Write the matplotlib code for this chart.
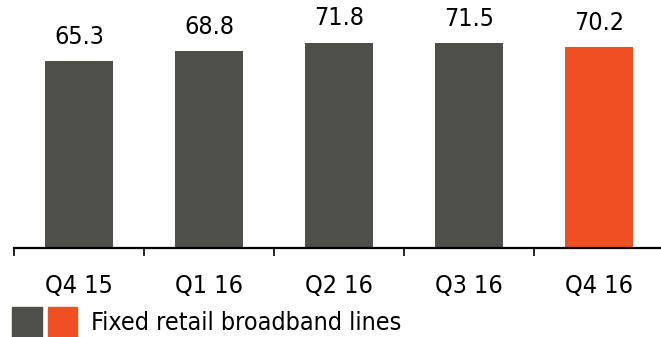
import matplotlib
matplotlib.use("Agg")
import matplotlib.pyplot as plt
from matplotlib.legend_handler import HandlerTuple
from matplotlib.patches import Patch

quarters = ["Q4 15", "Q1 16", "Q2 16", "Q3 16", "Q4 16"]
lines = [65.3, 68.8, 71.8, 71.5, 70.2]
labels = ["65.3", "68.8", "71.8", "71.5", "70.2"]

grey = "#4f4f4a"
orange = "#f04e23"
colors = [grey] * 4 + [orange]

plt.rcParams["font.family"] = "DejaVu Sans"
plt.rcParams["font.stretch"] = "condensed"
fs = 18

fig = plt.figure(figsize=(6.61, 3.37), dpi=100)
ax = fig.add_axes([14 / 661, 89 / 337, 650 / 661, 248 / 337])

x = list(range(len(quarters)))
bars = ax.bar(x, lines, width=0.52, color=colors)
ax.bar_label(bars, labels=labels, padding=9, fontsize=fs)

ax.set_xlim(-0.5, 4.5)
ax.set_ylim(0, 86.7)
ax.set_yticks([])
for s in ["top", "right", "left"]:
    ax.spines[s].set_visible(False)
ax.spines["bottom"].set_linewidth(1.6)

ax.set_xticks([i - 0.5 for i in x])
ax.set_xticklabels([])
ax.tick_params(axis="x", which="major", direction="out", length=6, width=1.2)
ax.set_xticks(x, minor=True)
ax.set_xticklabels(quarters, minor=True, fontsize=fs)
ax.tick_params(axis="x", which="minor", length=0, pad=19)

h = (Patch(color=grey), Patch(color=orange))
fig.legend([h], ["Fixed retail broadband lines"],
           handler_map={tuple: HandlerTuple(ndivide=None, pad=0.24)},
           loc="lower left", bbox_to_anchor=(12 / 661, 0.0),
           frameon=False, fontsize=fs, handlelength=2.6, handleheight=1.45,
           handletextpad=0.55, borderpad=0, borderaxespad=0)

fig.savefig("out.png", dpi=100)
